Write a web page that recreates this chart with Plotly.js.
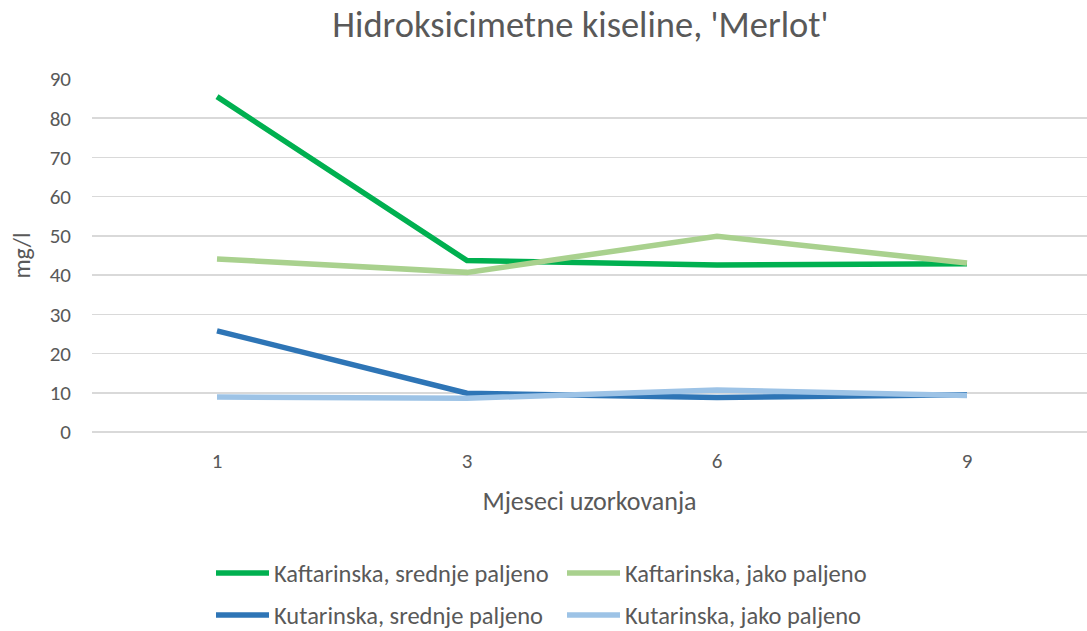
<!DOCTYPE html>
<html><head><meta charset="utf-8">
<script src="https://cdn.plot.ly/plotly-3.0.1.min.js"></script>
<style>body{margin:0;}#c{width:1087px;height:631px;}</style>
</head><body><div id="c"></div>
<script>
const months = ["1", "3", "6", "9"];
const seriesNames = ["Kaftarinska, srednje paljeno", "Kaftarinska, jako paljeno", "Kutarinska, srednje paljeno", "Kutarinska, jako paljeno"];
const kaftSrednje = [85.5, 43.7, 42.6, 42.9];
const kaftJako = [44.1, 40.7, 49.9, 43.1];
const kutSrednje = [25.8, 9.9, 8.8, 9.5];
const kutJako = [8.9, 8.6, 10.7, 9.3];
const colors = ["#00B050", "#A9D18E", "#2E75B6", "#9DC3E6"];
const yTicks = [0, 10, 20, 30, 40, 50, 60, 70, 80, 90];

const FONT = "Carlito, Lato, 'Open Sans', sans-serif";
const values = [kaftSrednje, kaftJako, kutSrednje, kutJako];
const legends = ["legend", "legend", "legend2", "legend2"];
const traces = values.map((v, i) => ({
  x: months, y: v, type: "scatter", mode: "lines", name: seriesNames[i],
  line: {color: colors[i], width: 5.5}, legend: legends[i]
}));

const legendCommon = {
  orientation: "h", xanchor: "left", yanchor: "middle",
  xref: "container", yref: "container",
  font: {family: FONT, size: 24.5, color: "#595959"},
  entrywidth: 283, entrywidthmode: "pixels", itemwidth: 53,
  bgcolor: "rgba(0,0,0,0)"
};

const layout = {
  width: 1087, height: 631,
  margin: {l: 92, r: 0, t: 79, b: 199, autoexpand: false},
  paper_bgcolor: "#ffffff", plot_bgcolor: "#ffffff",
  font: {family: FONT, color: "#595959"},
  title: {text: "Hidroksicimetne kiseline, 'Merlot'", font: {family: FONT, size: 36.5, color: "#595959"},
          x: 0.534, xanchor: "center", y: 0.962, yanchor: "middle"},
  xaxis: {type: "category", range: [-0.5, 3.48], showgrid: false, zeroline: false, showline: false,
          ticks: "", ticklabelstandoff: 14, tickfont: {family: FONT, size: 21, color: "#595959"},
          title: {text: "Mjeseci uzorkovanja", font: {family: FONT, size: 26, color: "#595959"}, standoff: 18}},
  yaxis: {range: [0, 90], tickvals: yTicks, showgrid: true, gridcolor: "#D9D9D9", gridwidth: 1.5,
          zeroline: true, zerolinecolor: "#D9D9D9", zerolinewidth: 1.5, showline: false, ticks: "",
          ticklen: 0, ticklabelstandoff: 20, tickfont: {family: FONT, size: 21, color: "#595959"},
          title: {text: "mg/l", font: {family: FONT, size: 24, color: "#595959"}, standoff: 12}},
  legend: Object.assign({x: 211 / 1087, y: 1 - 573 / 631}, legendCommon),
  legend2: Object.assign({x: 211 / 1087, y: 1 - 615 / 631}, legendCommon),
  showlegend: true
};

Plotly.newPlot("c", traces, layout, {displayModeBar: false, staticPlot: true});
</script></body></html>
